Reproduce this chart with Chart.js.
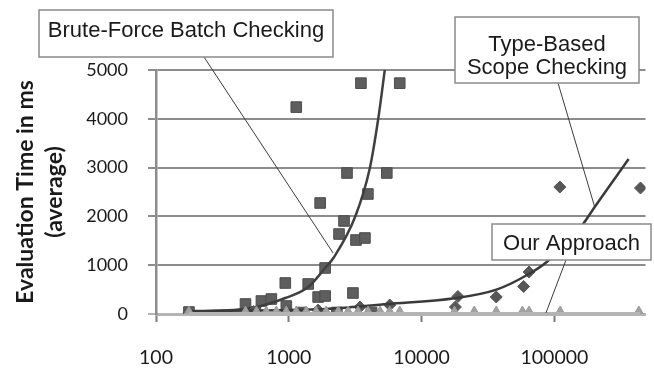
<!DOCTYPE html>
<html><head><meta charset="utf-8">
<script src="https://cdn.jsdelivr.net/npm/chart.js@4.4.1/dist/chart.umd.min.js"></script>
<style>html,body{margin:0;padding:0;background:#fff;overflow:hidden}#wrap{width:654px;height:369px}</style>
</head><body><div id="wrap"><canvas id="c" width="654" height="369"></canvas></div>
<script>
// ---- data ----
const xTickValues = [100, 1000, 10000, 100000];
const yTickValues = [0, 1000, 2000, 3000, 4000, 5000];

// Brute-Force Batch Checking (squares)
const bruteX = [177, 472, 560, 622, 739, 941, 958, 1138, 1250, 1400, 1663, 1722, 1877, 1877, 2300, 2389, 2605, 2743, 3041, 3204, 3493, 3742, 3940, 4200, 5470, 6843];
const bruteY = [41, 205, 40, 266, 307, 635, 164, 4240, 30, 615, 348, 2275, 943, 369, 30, 1639, 1906, 2889, 430, 1516, 4730, 1557, 2459, 30, 2889, 4730];
const bruteTrendX = [177, 524, 942, 1400, 1877, 2193, 3176, 4077, 4723, 5280];
const bruteTrendY = [47, 123, 328, 553, 943, 1168, 2008, 2992, 4016, 5000];

// Type-Based Scope Checking (diamonds)
const typeX = [177, 542, 990, 1663, 3433, 5755, 17950, 18770, 36470, 58600, 64420, 109900, 444600];
const typeY = [40, 50, 60, 80, 143, 184, 143, 359, 348, 564, 861, 2602, 2582];
const typeTrendX = [177, 1663, 5562, 17670, 37090, 62230, 87880, 166300, 201000, 362000];
const typeTrendY = [61, 96, 205, 322, 506, 799, 1072, 1865, 2193, 3176];

// Our Approach (triangles)
const ourX = [177, 472, 571, 677, 806, 957, 1138, 1351, 1607, 1910, 2353, 2796, 3320, 3946, 4863, 5755, 6843, 17670, 24900, 36470, 57430, 64420, 110500, 432000];
const ourY = [20, 20, 20, 20, 20, 20, 20, 20, 20, 20, 20, 20, 20, 20, 20, 20, 20, 20, 20, 20, 20, 20, 20, 20];
const ourTrendX = [177, 440000];
const ourTrendY = [12, 12];

// callouts
const calloutTexts = [['Brute-Force Batch Checking'], ['Type-Based', 'Scope Checking'], ['Our Approach']];
const calloutAnchorX = [2155, 201000, 86300];
const calloutAnchorY = [1250, 2193, 20];
const calloutBoxes = [
  {x: 39, y: 10, w: 294, h: 47, lineX: 204, baselines: [37]},
  {x: 455, y: 17, w: 184, h: 66, lineX: 558, baselines: [51, 74]},
  {x: 492, y: 224, w: 159, h: 36, lineX: 566, baselines: [250]}
];

const pts = (xs, ys) => xs.map((v, i) => ({x: v, y: ys[i]}));

const whiteBg = {
  id: 'whiteBg',
  beforeDraw(chart) {
    const c = chart.ctx; c.save(); c.fillStyle = '#fff'; c.fillRect(0, 0, chart.width, chart.height); c.restore();
  }
};

const callouts = {
  id: 'callouts',
  afterDraw(chart) {
    const {ctx, scales: {x, y}} = chart;
    ctx.save();
    calloutBoxes.forEach((b, i) => {
      const ax = x.getPixelForValue(calloutAnchorX[i]);
      const ay = y.getPixelForValue(calloutAnchorY[i]);
      ctx.beginPath();
      ctx.moveTo(b.lineX, b.y + b.h);
      ctx.lineTo(ax, ay);
      ctx.strokeStyle = '#3c3c3c';
      ctx.lineWidth = 1;
      ctx.stroke();
    });
    calloutBoxes.forEach((b, i) => {
      ctx.fillStyle = '#fff';
      ctx.fillRect(b.x, b.y, b.w, b.h);
      ctx.strokeStyle = '#8a8a8a';
      ctx.lineWidth = 1.5;
      ctx.strokeRect(b.x, b.y, b.w, b.h);
      ctx.fillStyle = '#1a1a1a';
      ctx.font = '22px "Liberation Sans", Arial, sans-serif';
      ctx.textAlign = 'center';
      ctx.textBaseline = 'alphabetic';
      calloutTexts[i].forEach((t, j) => ctx.fillText(t, b.x + b.w / 2, b.baselines[j]));
    });
    ctx.restore();
  }
};

new Chart(document.getElementById('c'), {
  type: 'scatter',
  data: {
    datasets: [
      {label: 'Our Approach trend', data: pts(ourTrendX, ourTrendY), showLine: true, pointRadius: 0,
       borderColor: '#b4b4b4', borderWidth: 3, order: 1},
      {label: 'Our Approach', data: pts(ourX, ourY), pointStyle: 'triangle', pointRadius: 7,
       backgroundColor: '#a2a2a2', borderColor: '#989898', borderWidth: 1, order: 2},
      {label: 'Type-Based trend', data: pts(typeTrendX, typeTrendY), showLine: true, pointRadius: 0,
       borderColor: '#3a3a3a', borderWidth: 2.5, cubicInterpolationMode: 'monotone', order: 3},
      {label: 'Type-Based Scope Checking', data: pts(typeX, typeY), pointStyle: 'rectRot', pointRadius: 6,
       backgroundColor: '#575757', borderColor: '#575757', borderWidth: 1, order: 4},
      {label: 'Brute-Force trend', data: pts(bruteTrendX, bruteTrendY), showLine: true, pointRadius: 0,
       borderColor: '#404040', borderWidth: 2.5, cubicInterpolationMode: 'monotone', order: 5},
      {label: 'Brute-Force Batch Checking', data: pts(bruteX, bruteY), pointStyle: 'rect', pointRadius: 7.5,
       backgroundColor: '#5e5e5e', borderColor: '#4d4d4d', borderWidth: 1, order: 6}
    ]
  },
  options: {
    responsive: false,
    animation: false,
    devicePixelRatio: 1,
    layout: {padding: {top: 70, right: 6, left: 0, bottom: 0}},
    plugins: {legend: {display: false}, tooltip: {enabled: false}},
    scales: {
      x: {
        type: 'logarithmic', min: 100, max: 485000,
        afterBuildTicks: s => { s.ticks = xTickValues.map(v => ({value: v})); },
        afterFit: s => { s.height = 55; },
        ticks: {callback: v => String(v), font: {family: 'Lato', size: 19.5}, color: '#1a1a1a',
                padding: 24, maxRotation: 0, autoSkip: false},
        grid: {drawOnChartArea: false, drawTicks: true, tickLength: 8, tickColor: '#7a7a7a', tickWidth: 2},
        border: {color: '#b4b4b4', width: 3}
      },
      y: {
        min: 0, max: 5000,
        afterBuildTicks: s => { s.ticks = yTickValues.map(v => ({value: v})); },
        afterFit: s => { s.width = 156; },
        ticks: {callback: v => String(v), font: {family: 'Lato', size: 18}, color: '#1a1a1a', padding: 20},
        grid: {color: c => (c.tick && c.tick.value === 0) ? '#b4b4b4' : '#8c8c8c', lineWidth: 2, tickLength: 8},
        border: {color: '#8c8c8c', width: 2.5},
        title: {display: true, text: ['Evaluation Time in ms', '(average)'],
                font: {family: 'Lato', size: 23, weight: 'bold', lineHeight: 1.26}, color: '#1a1a1a',
                padding: {top: 11.5, bottom: 0}}
      }
    }
  },
  plugins: [whiteBg, callouts]
});
</script>
</body></html>
